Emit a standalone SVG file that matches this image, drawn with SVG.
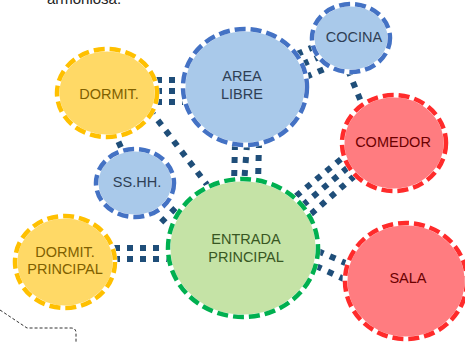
<svg xmlns="http://www.w3.org/2000/svg" width="465" height="343" viewBox="0 0 465 343">
<style>
.bg{stroke:#fff;stroke-width:5}
.d{fill:none;stroke-width:4.5;stroke-dasharray:11 5}
.y{fill:#FFD966}.yd{stroke:#FFC000}
.b{fill:#A9C9EA}.bd{stroke:#4472C4}
.r{fill:#FF7C80}.rd{stroke:#FF2B2B}
.g{fill:#C5E3A6}.gd{stroke:#00B050}
.c line{stroke:#1F4E79;stroke-width:6;stroke-dasharray:6 7;fill:none}
text{font-family:"Liberation Sans",Arial,sans-serif;font-size:14.5px;text-anchor:middle}
.ty{fill:#7F6000}.tb{fill:#2F3F55}.tr{fill:#6B0000}.tg{fill:#385723}
</style>
<text x="84" y="4" style="text-anchor:middle;font-size:15px;fill:#222">armoniosa.</text>
<path d="M0,310 L27,328 L71,328 Q76,328 76,333 L76,343" fill="none" stroke="#333" stroke-width="1" stroke-dasharray="3 2"/>
<g id="connectors" class="c">
<line x1="156" y1="80" x2="186" y2="80"/>
<line x1="156" y1="91" x2="186" y2="91"/>
<line x1="156" y1="102" x2="186" y2="102"/>
<line x1="235" y1="144" x2="234" y2="184"/>
<line x1="247" y1="144" x2="244" y2="184"/>
<line x1="259" y1="142" x2="258" y2="184"/>
<line x1="296" y1="196" x2="346" y2="155"/>
<line x1="303" y1="205" x2="352" y2="164"/>
<line x1="311" y1="214" x2="358" y2="173"/>
<line x1="318" y1="251" x2="350" y2="265"/>
<line x1="316" y1="266" x2="348" y2="281"/>
<line x1="297" y1="54" x2="318" y2="45"/>
<line x1="303" y1="64" x2="326" y2="54"/>
<line x1="306" y1="77" x2="329" y2="67"/>
<line x1="348" y1="70" x2="362" y2="104"/>
<line x1="113" y1="130" x2="124" y2="154"/>
<line x1="150" y1="110" x2="208" y2="186"/>
<line x1="162" y1="199" x2="186" y2="223"/>
<line x1="152" y1="209" x2="176" y2="233"/>
<line x1="114" y1="248" x2="172" y2="248"/>
<line x1="114" y1="259" x2="172" y2="259"/>
</g>
<g id="dormit">
<ellipse cx="107" cy="93" rx="50" ry="44" class="y bg"/>
<ellipse cx="107" cy="93" rx="50" ry="44" class="d yd"/>
<text x="109" y="99" class="ty">DORMIT.</text>
</g>
<g id="area-libre">
<ellipse cx="245" cy="87" rx="62" ry="58" class="b bg"/>
<ellipse cx="245" cy="87" rx="62" ry="58" class="d bd"/>
<text x="242" y="81" class="tb">AREA</text>
<text x="242" y="99" class="tb">LIBRE</text>
</g>
<g id="cocina">
<ellipse cx="351" cy="38" rx="39" ry="34" class="b bg"/>
<ellipse cx="351" cy="38" rx="39" ry="34" class="d bd"/>
<text x="354" y="42" class="tb">COCINA</text>
</g>
<g id="comedor">
<ellipse cx="394" cy="143" rx="52" ry="48" class="r bg"/>
<ellipse cx="394" cy="143" rx="52" ry="48" class="d rd"/>
<text x="393" y="147" class="tr">COMEDOR</text>
</g>
<g id="sshh">
<ellipse cx="135" cy="183" rx="39" ry="34" class="b bg"/>
<ellipse cx="135" cy="183" rx="39" ry="34" class="d bd"/>
<text x="137" y="187" class="tb">SS.HH.</text>
</g>
<g id="entrada">
<ellipse cx="243" cy="248" rx="75" ry="69" class="g bg"/>
<ellipse cx="243" cy="248" rx="75" ry="69" class="d gd"/>
<text x="246" y="244" class="tg">ENTRADA</text>
<text x="246" y="262" class="tg">PRINCIPAL</text>
</g>
<g id="dormit-principal">
<ellipse cx="65" cy="262" rx="50" ry="46" class="y bg"/>
<ellipse cx="65" cy="262" rx="50" ry="46" class="d yd"/>
<text x="65" y="257" class="ty">DORMIT.</text>
<text x="65" y="274" class="ty">PRINCIPAL</text>
</g>
<g id="sala">
<ellipse cx="406" cy="281" rx="61" ry="58" class="r bg"/>
<ellipse cx="406" cy="281" rx="61" ry="58" class="d rd"/>
<text x="408" y="283" class="tr">SALA</text>
</g>
</svg>
